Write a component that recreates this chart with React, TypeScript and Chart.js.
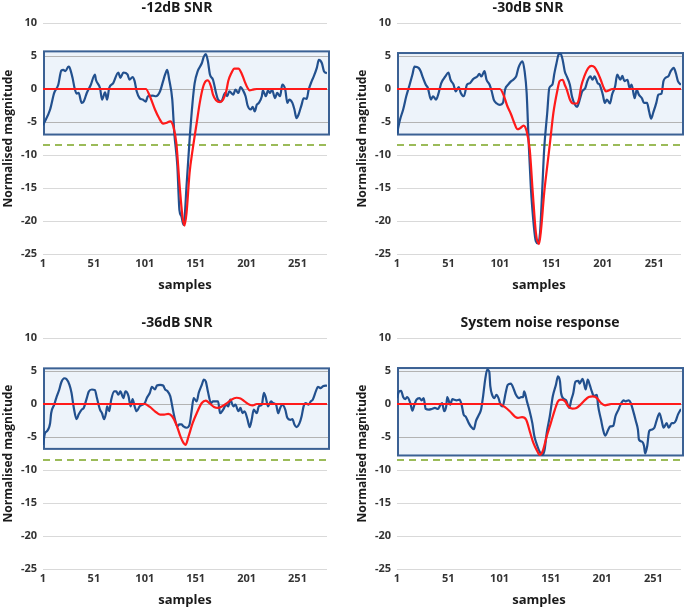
import React, { useEffect, useRef } from 'react';
import { Chart, registerables } from 'chart.js';

Chart.register(...registerables);

const FONT = '"Open Sans", "Liberation Sans", sans-serif';

const panelTitles = ['-12dB SNR', '-30dB SNR', '-36dB SNR', 'System noise response'];
const sampleCounts = [280, 277, 280, 278];
const xTickValues = [1, 51, 101, 151, 201, 251];
const yTickValues = [10, 5, 0, -5, -10, -15, -20, -25];
const thresholdLevels = [-8.5, -8.5, -8.5, -8.5];
const windowTop = [5.7, 5.45, 5.4, 5.45];
const windowBottom = [-6.9, -6.9, -6.8, -7.8];

// [sample, normalised magnitude]
const p1Signal = [
  [1, -5.5], [8, -3.1], [12, -0.6], [16, 0.65], [19, 2.8], [21, 2.9], [23, 2.7], [26, 3.4], [27, 3.3], [30, 1.7],
  [32, 0.15], [34, -0.7], [36, -0.6], [39, -2.1], [41, -1.9], [44, -0.6], [48, 0.65], [52, 2.2], [53, 1.4], [57, 0.15],
  [59, -1.6], [62, -0.5], [64, -1.6], [66, 0.15], [70, 0.9], [75, 2.5], [77, 1.7], [80, 2.5], [84, 2.2], [86, 1.4],
  [89, 1.8], [91, 1.2], [93, -0.35], [96, -1.4], [99, -1.6], [102, -1.9], [104, -1.1], [109, -1.0], [112, -1.1], [116, -0.35],
  [119, 1.2], [121, 2.2], [123, 2.9], [125, 1.4], [128, -1.6], [130, -6.7], [133, -11.7], [135, -18.3], [137, -19.3], [139, -20.6],
  [140, -19.8], [142, -14.7], [145, -7.7], [148, -1.9], [150, 0.9], [153, 2.7], [157, 3.9], [159, 4.9], [161, 5.3], [163, 4.2],
  [165, 2.2], [168, 1.4], [171, -0.6], [173, -1.6], [176, -1.9], [180, -0.6], [182, -1.1], [184, -0.35], [188, -0.85], [190, -0.1],
  [193, -0.6], [195, 0.3], [198, -0.35], [200, -1.1], [202, -2.5], [205, -3.1], [207, -2.7], [209, -3.4], [211, -2.4], [213, -2.1],
  [216, -1.1], [217, -0.2], [220, -1.1], [222, -0.2], [224, -0.6], [226, -0.1], [229, -1.4], [231, -0.6], [234, -1.1], [236, 0.65],
  [239, -0.1], [241, -2.1], [243, -1.6], [246, -2.1], [248, -3.1], [250, -4.4], [252, -3.9], [255, -2.4], [257, -1.4], [260, -1.5],
  [262, -0.1], [265, 1.2], [267, 1.9], [270, 3.2], [272, 4.4], [275, 3.9], [277, 2.7], [280, 2.4],
];
const p1Template = [
  [1, 0], [102, 0], [106, -1.1], [111, -3.1], [115, -4.4], [119, -5.25], [122, -5.15], [126, -4.9], [129, -5.65], [132, -8.2],
  [135, -14.2], [138, -19.3], [140, -20.7], [142, -18.8], [145, -12.7], [148, -9.2], [152, -5.15], [155, -2.1], [158, 0.15], [161, 1.2],
  [163, 1.3], [166, 0.4], [168, -0.85], [171, -1.7], [175, -2.0], [178, -1.6], [181, -0.35], [183, 1.2], [186, 2.4], [189, 3.1],
  [193, 3.1], [196, 2.4], [199, 1.2], [202, 0.15], [204, -0.2], [207, -0.1], [211, 0], [280, 0],
];

const p2Signal = [
  [1, -6.7], [4, -4.6], [7, -3.1], [10, -1.1], [13, 0.5], [16, 2.2], [18, 3.4], [22, 3.2], [24, 2.7], [26, 1.8],
  [29, 0.65], [31, 0.15], [34, -1.6], [36, -1.1], [39, -1.6], [41, -0.85], [44, 0.9], [48, 1.9], [51, 2.5], [53, 1.4],
  [56, 0.65], [58, -0.35], [61, 0.3], [63, -0.6], [66, -1.1], [69, 0.65], [72, 0.9], [75, 1.5], [79, 1.9], [81, 2.3],
  [83, 1.9], [86, 2.7], [88, 1.4], [91, 0.65], [93, -0.35], [95, -1.6], [98, -2.2], [101, -2.4], [104, -2.1], [106, -0.1],
  [109, 0.65], [112, 1.2], [114, 1.4], [117, 2.0], [119, 3.2], [121, 3.9], [123, 4.2], [125, 2.7], [127, -0.6], [129, -8.2],
  [131, -14.7], [134, -20.8], [136, -23.1], [138, -23.4], [140, -21.8], [142, -15.8], [144, -9.2], [147, -3.6], [149, 0.15], [152, 0.65],
  [154, 2.4], [156, 3.9], [158, 5.2], [160, 5.35], [162, 4.4], [164, 2.7], [166, 1.9], [169, 0.65], [171, -1.1], [174, -2.4],
  [176, -2.7], [179, -1.4], [181, -0.35], [184, 0.15], [186, 1.2], [189, 1.9], [191, 1.4], [193, 1.9], [196, 0.9], [198, 0.65],
  [201, -0.85], [203, -2.1], [205, -1.6], [208, -2.2], [210, -0.85], [213, 0.4], [215, 2.2], [218, 1.4], [220, 2.0], [222, 1.2],
  [225, 1.4], [227, 0.15], [229, 0.65], [232, -1.4], [234, -0.1], [236, -0.85], [239, -1.4], [241, -2.1], [244, -2.1], [246, -3.4],
  [248, -4.5], [250, -3.6], [253, -2.1], [255, -0.85], [258, -0.7], [260, 1.2], [262, 1.7], [265, 2.0], [267, 2.7], [270, 3.2],
  [272, 2.4], [274, 1.2], [277, 0.65],
];
const p2Template = [
  [1, 0], [101, 0], [105, -1.1], [108, -2.5], [112, -3.9], [115, -5.15], [118, -6.1], [121, -5.9], [124, -5.55], [127, -6.4],
  [130, -9.2], [133, -15.8], [136, -21.8], [139, -23.5], [141, -21.3], [144, -15.8], [147, -11.7], [150, -7.7], [153, -3.6], [157, -0.1],
  [159, 1.2], [162, 1.4], [164, 0.65], [166, -0.1], [169, -1.6], [172, -2.2], [176, -2.2], [178, -1.4], [180, 0.4], [183, 1.9],
  [187, 3.2], [190, 3.5], [193, 3.3], [196, 2.5], [199, 1.4], [202, 0.15], [204, -0.35], [207, -0.2], [210, 0], [277, 0],
];

const p3Signal = [
  [1, -6.2], [3, -4.4], [5, -4.1], [8, -2.9], [9, -1.4], [12, -0.1], [14, 0.9], [17, 2.2], [19, 3.3], [22, 3.9],
  [24, 3.8], [27, 2.9], [29, 1.7], [31, -0.35], [34, -2.3], [36, -1.6], [39, -0.85], [41, -0.6], [44, 0.9], [46, 1.9],
  [49, 2.2], [52, 2.1], [54, 0.9], [57, -0.85], [59, -1.4], [61, -2.3], [63, -1.3], [64, -0.35], [66, -1.1], [68, 0.65],
  [71, 1.9], [73, 1.9], [75, 1.4], [77, 1.9], [80, 0.9], [82, 1.9], [85, 1.2], [87, -0.35], [89, 0.75], [91, -0.35],
  [93, -1.1], [96, -0.35], [99, -0.1], [101, 0.15], [103, 0.9], [106, 1.7], [108, 2.6], [111, 2.2], [113, 2.8], [116, 2.9],
  [119, 2.8], [121, 2.2], [123, 2.0], [126, 1.2], [128, -0.35], [130, -1.9], [133, -3.4], [135, -3.1], [137, -3.1], [139, -3.4],
  [142, -3.6], [145, -3.1], [147, -1.1], [149, 0.9], [152, 0.4], [154, 1.7], [157, 2.9], [159, 3.7], [161, 3.4], [163, 1.9],
  [166, 0.15], [168, 0.4], [171, 0.4], [173, 0.4], [175, -1.4], [178, -0.85], [181, -0.1], [183, -0.35], [185, 0.65], [188, -0.35],
  [190, -0.1], [193, -1.1], [195, -0.6], [197, -1.4], [199, -1.1], [202, -2.4], [204, -3.5], [206, -2.4], [208, -0.85], [211, -1.4],
  [213, -0.35], [216, -0.1], [218, 1.7], [220, 0.9], [222, -0.35], [225, 0.4], [227, 0.15], [230, -0.1], [232, -1.4], [234, -0.6],
  [236, -0.1], [239, -0.85], [241, -2.1], [244, -2.4], [246, -2.3], [248, -3.1], [250, -3.5], [253, -2.9], [255, -1.9], [257, -0.35],
  [259, 0.15], [262, -0.1], [264, 0.4], [266, 0.65], [269, 1.9], [271, 2.6], [274, 2.4], [276, 2.7], [280, 2.8],
];
const p3Template = [
  [1, 0], [101, 0], [106, -0.45], [111, -1.1], [116, -1.6], [120, -1.6], [124, -1.5], [128, -1.9], [132, -3.1], [136, -4.9],
  [139, -5.9], [141, -6.2], [144, -4.9], [148, -2.9], [152, -1.4], [157, 0.15], [161, 0.5], [165, 0.05], [169, -0.45], [173, -0.6],
  [177, -0.35], [181, 0.05], [186, 0.65], [191, 0.95], [195, 0.85], [199, 0.4], [204, -0.1], [207, -0.2], [211, 0], [280, 0],
];

const p4Signal = [
  [1, 0.9], [3, 1.9], [5, 2.0], [7, 1.05], [9, 0.75], [11, 1.05], [14, 0.15], [16, -1.0], [18, -0.1], [20, 0.65],
  [23, 0.9], [25, 0.55], [27, 0.9], [29, -0.75], [32, -0.85], [35, -0.75], [38, -0.6], [41, -0.75], [43, -0.25], [45, 0.15],
  [47, -1.1], [49, -0.35], [50, 1.05], [53, -0.1], [55, 0.75], [57, 0.65], [59, 0.55], [62, 0.65], [64, -0.1], [66, -1.6],
  [68, -1.9], [71, -2.9], [73, -3.4], [76, -3.8], [78, -2.6], [81, -1.6], [83, -0.85], [85, 1.2], [87, 3.7], [89, 5.2],
  [91, 4.9], [92, 2.7], [94, 1.3], [96, 0.9], [98, 1.4], [100, 0.9], [102, -0.1], [104, -0.35], [107, 1.7], [109, 2.9],
  [112, 3.1], [115, 2.2], [117, 1.4], [120, 0.9], [122, 1.05], [124, 1.05], [125, 1.9], [128, 0.25], [130, -0.85], [133, -2.9],
  [135, -4.9], [138, -6.4], [140, -7.2], [143, -7.7], [145, -6.9], [147, -4.4], [150, -1.9], [153, 1.2], [156, 2.9], [158, 4.2],
  [160, 3.4], [161, 1.7], [164, 0.75], [166, 0.55], [169, -0.6], [171, 0.65], [173, 1.7], [175, 3.4], [178, 3.5], [179, 3.1],
  [182, 3.8], [183, 3.4], [185, 2.2], [187, 3.7], [189, 2.9], [191, 1.9], [193, 1.2], [196, 1.4], [197, -0.1], [200, -2.4],
  [202, -3.9], [204, -4.8], [207, -3.9], [209, -3.4], [212, -3.3], [214, -1.9], [217, -0.85], [219, -0.1], [222, 0.55], [224, 0.4],
  [227, 0.55], [229, 0.15], [231, -0.85], [234, -2.6], [236, -3.9], [237, -5.4], [240, -5.7], [242, -6.4], [243, -7.5], [245, -6.4],
  [247, -4.1], [249, -3.9], [252, -3.6], [254, -2.6], [257, -1.4], [259, -2.4], [261, -3.6], [264, -2.9], [266, -3.6], [269, -2.9],
  [271, -2.9], [273, -2.5], [275, -1.6], [278, -0.75],
];
const p4Template = [
  [1, 0], [101, 0], [106, -0.45], [111, -1.1], [116, -1.9], [119, -2.1], [123, -2.0], [127, -2.4], [131, -4.4], [134, -5.9],
  [138, -7.2], [140, -7.7], [143, -7.2], [147, -4.9], [151, -2.9], [155, -0.85], [158, 0.4], [161, 0.65], [165, 0.4], [168, -0.35],
  [172, -0.7], [176, -0.6], [180, -0.1], [184, 0.55], [188, 1.05], [192, 1.15], [196, 0.9], [200, 0.15], [204, -0.2], [207, -0.1],
  [210, 0], [278, 0],
];

const signals = [p1Signal, p2Signal, p3Signal, p4Signal];
const templates = [p1Template, p2Template, p3Template, p4Template];

// layout (not data)
const panelPos = [
  { left: 0, top: 0 },
  { left: 354, top: 0 },
  { left: 0, top: 315 },
  { left: 354, top: 315 },
];
const titleShift = [-8, -11, -8, 1];
const CW = 340;
const CH = 294;

const toPts = (arr: number[][]) => arr.map(([x, y]) => ({ x, y }));

function Panel({ idx }: { idx: number }) {
  const ref = useRef<HTMLCanvasElement | null>(null);
  useEffect(() => {
    if (!ref.current) return;
    const xMax = sampleCounts[idx];
    const boxPlugin = {
      id: 'windowBox',
      beforeDatasetsDraw(chart: any) {
        const { ctx, chartArea, scales } = chart;
        const ys = scales.y;
        const t = ys.getPixelForValue(windowTop[idx]);
        const b = ys.getPixelForValue(windowBottom[idx]);
        const l = chartArea.left + 1;
        const r = chartArea.right + 2;
        ctx.save();
        ctx.fillStyle = '#EDF3FA';
        ctx.fillRect(l, t, r - l, b - t);
        ctx.strokeStyle = '#B3B3B3';
        ctx.lineWidth = 1;
        yTickValues.forEach((v) => {
          if (v < windowTop[idx] && v > windowBottom[idx]) {
            const py = Math.round(ys.getPixelForValue(v)) + 0.5;
            ctx.beginPath();
            ctx.moveTo(l, py);
            ctx.lineTo(r, py);
            ctx.stroke();
          }
        });
        ctx.strokeStyle = '#3B6194';
        ctx.lineWidth = 2;
        ctx.strokeRect(l, t, r - l, b - t);
        ctx.restore();
      },
    };
    const titlePlugin = {
      id: 'panelTitle',
      afterDraw(chart: any) {
        const { ctx, chartArea } = chart;
        ctx.save();
        ctx.font = `bold 14px ${FONT}`;
        ctx.fillStyle = '#1a1a1a';
        ctx.textAlign = 'center';
        ctx.textBaseline = 'middle';
        ctx.fillText(panelTitles[idx], (chartArea.left + chartArea.right) / 2 + titleShift[idx], 8);
        ctx.restore();
      },
    };
    const chart = new Chart(ref.current, {
      type: 'line',
      data: {
        datasets: [
          {
            label: 'template',
            data: toPts(templates[idx]),
            borderColor: '#FF1A1A',
            borderWidth: 2.2,
            pointRadius: 0,
            cubicInterpolationMode: 'monotone',
            order: 0,
          },
          {
            label: 'signal',
            data: toPts(signals[idx]),
            borderColor: '#22508E',
            borderWidth: 2.2,
            pointRadius: 0,
            cubicInterpolationMode: 'monotone',
            order: 1,
          },
          {
            label: 'threshold',
            data: [
              { x: 1, y: thresholdLevels[idx] },
              { x: xMax, y: thresholdLevels[idx] },
            ],
            borderColor: '#9BBB59',
            borderWidth: 2,
            borderDash: [7, 5],
            pointRadius: 0,
            order: 2,
          },
        ],
      } as any,
      options: {
        responsive: false,
        animation: false,
        events: [],
        layout: { padding: { top: 23, right: 13, left: 0, bottom: 0 } },
        plugins: { legend: { display: false }, tooltip: { enabled: false }, title: { display: false } },
        scales: {
          x: {
            type: 'linear',
            min: 1,
            max: xMax,
            afterBuildTicks: (s: any) => {
              s.ticks = xTickValues.map((v) => ({ value: v }));
            },
            afterFit: (s: any) => {
              s.height = 40;
            },
            grid: { display: false, drawTicks: false },
            border: { display: false },
            ticks: {
              font: { family: FONT, size: 11, weight: 'bold' },
              color: '#333333',
              padding: 3,
              maxRotation: 0,
              autoSkip: false,
            },
            title: {
              display: true,
              text: 'samples',
              font: { family: FONT, size: 13, weight: 'bold' },
              color: '#1a1a1a',
              padding: { top: 0, bottom: 1 },
            },
          },
          y: {
            type: 'linear',
            min: -25,
            max: 10,
            afterBuildTicks: (s: any) => {
              s.ticks = yTickValues.map((v) => ({ value: v }));
            },
            afterFit: (s: any) => {
              s.width = 43;
            },
            grid: { color: '#D9D9D9', drawTicks: false, lineWidth: 1 },
            border: { display: false },
            ticks: {
              font: { family: FONT, size: 11, weight: 'bold' },
              color: '#333333',
              padding: 6,
            },
            title: {
              display: true,
              text: 'Normalised magnitude',
              font: { family: FONT, size: 12, weight: 'bold' },
              color: '#1a1a1a',
              padding: { top: 1, bottom: 0 },
            },
          },
        },
      } as any,
      plugins: [boxPlugin, titlePlugin],
    });
    return () => chart.destroy();
  }, [idx]);
  return (
    <canvas
      ref={ref}
      width={CW}
      height={CH}
      style={{ position: 'absolute', left: panelPos[idx].left, top: panelPos[idx].top, width: CW, height: CH }}
    />
  );
}

export default function App() {
  return (
    <div
      style={{
        position: 'absolute',
        left: 0,
        top: 0,
        width: 685,
        height: 609,
        overflow: 'hidden',
        background: '#ffffff',
      }}
    >
      {[0, 1, 2, 3].map((i) => (
        <Panel key={i} idx={i} />
      ))}
    </div>
  );
}
